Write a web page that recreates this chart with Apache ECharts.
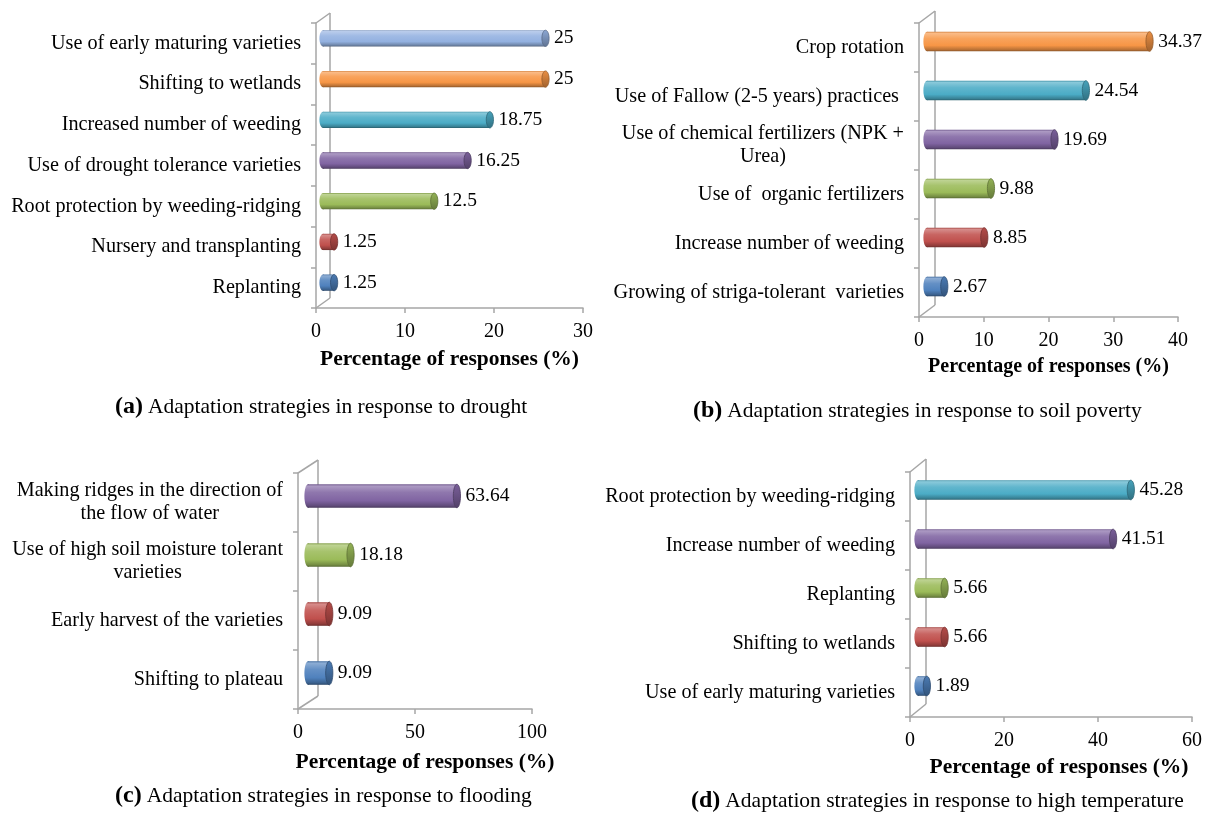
<!DOCTYPE html>
<html>
<head>
<meta charset="utf-8">
<script src="https://cdn.jsdelivr.net/npm/echarts@6/dist/echarts.min.js"></script>
<style>
  html, body { margin: 0; padding: 0; background: #ffffff; }
  #chart { width: 1211px; height: 815px; }
</style>
</head>
<body>
<div id="chart"></div>
<script>
// Categories are listed bottom-to-top (first entry sits at the bottom of the axis).
const droughtCategories = [
  'Replanting',
  'Nursery and transplanting',
  'Root protection by weeding-ridging',
  'Use of drought tolerance varieties',
  'Increased number of weeding',
  'Shifting to wetlands',
  'Use of early maturing varieties'
];
const droughtValues = [1.25, 1.25, 12.5, 16.25, 18.75, 25, 25];

const soilCategories = [
  'Growing of striga-tolerant  varieties',
  'Increase number of weeding',
  'Use of  organic fertilizers',
  'Use of chemical fertilizers (NPK +\nUrea)',
  'Use of Fallow (2-5 years) practices ',
  'Crop rotation'
];
const soilValues = [2.67, 8.85, 9.88, 19.69, 24.54, 34.37];

const floodCategories = [
  'Shifting to plateau',
  'Early harvest of the varieties',
  'Use of high soil moisture tolerant\nvarieties',
  'Making ridges in the direction of\nthe flow of water'
];
const floodValues = [9.09, 9.09, 18.18, 63.64];

const heatCategories = [
  'Use of early maturing varieties',
  'Shifting to wetlands',
  'Replanting',
  'Increase number of weeding',
  'Root protection by weeding-ridging'
];
const heatValues = [1.89, 5.66, 5.66, 41.51, 45.28];

const axisTitle = 'Percentage of responses (%)';
const captionTags = ['(a)', '(b)', '(c)', '(d)'];
const captionTexts = [
  'Adaptation strategies in response to drought',
  'Adaptation strategies in response to soil poverty',
  'Adaptation strategies in response to flooding',
  'Adaptation strategies in response to high temperature'
];

// Office-style accent colours, applied per point from the bottom up
const palette = ['#4F81BD', '#C0504D', '#9BBB59', '#8064A2', '#4BACC6', '#F79646', '#93B1E0'];

const FONT = "'Liberation Serif', 'Times New Roman', serif";
const AXIS_GREY = '#a6a6a6';

function hexToRgb(h) {
  const n = parseInt(h.slice(1), 16);
  return [(n >> 16) & 255, (n >> 8) & 255, n & 255];
}
function mix(hex, target, t) {
  const a = hexToRgb(hex), b = hexToRgb(target);
  const c = a.map((v, i) => Math.round(v + (b[i] - v) * t));
  return 'rgb(' + c.join(',') + ')';
}
function bodyGradient(base) {
  return {
    type: 'linear', x: 0, y: 0, x2: 0, y2: 1,
    colorStops: [
      { offset: 0, color: mix(base, '#000000', 0.15) },
      { offset: 0.08, color: mix(base, '#ffffff', 0.35) },
      { offset: 0.35, color: mix(base, '#ffffff', 0.12) },
      { offset: 0.7, color: base },
      { offset: 0.92, color: mix(base, '#000000', 0.25) },
      { offset: 1, color: mix(base, '#000000', 0.45) }
    ]
  };
}
function capGradient(base) {
  return {
    type: 'linear', x: 0, y: 0, x2: 0, y2: 1,
    colorStops: [
      { offset: 0, color: mix(base, '#000000', 0.05) },
      { offset: 1, color: mix(base, '#000000', 0.35) }
    ]
  };
}

// Cylinder bars drawn at mid-depth of a shallow 3D plot box
function cylinderRenderer(depthX, depthY, labelSize) {
  return function (params, api) {
    const v = api.value(0);
    const c = api.value(1);
    const start = api.coord([0, c]);
    const end = api.coord([v, c]);
    const band = api.size([0, 1])[1];
    const h = band * 0.4;
    const rx = 3.6;
    const cy = start[1] - depthY / 2;
    const x0 = start[0] + depthX / 2;
    const x1 = end[0] + depthX / 2;
    const base = palette[c];
    const fill = bodyGradient(base);
    return {
      type: 'group',
      children: [
        { type: 'ellipse', shape: { cx: x0, cy: cy, rx: rx, ry: h / 2 }, style: { fill: fill } },
        { type: 'rect', shape: { x: x0, y: cy - h / 2, width: Math.max(0, x1 - x0), height: h }, style: { fill: fill } },
        { type: 'ellipse', shape: { cx: x1, cy: cy, rx: rx, ry: h / 2 },
          style: { fill: capGradient(base), stroke: mix(base, '#000000', 0.4), lineWidth: 0.8 } },
        { type: 'text', style: {
            text: String(v), x: x1 + rx + 5, y: cy,
            align: 'left', verticalAlign: 'middle',
            fontFamily: FONT, fontSize: labelSize, fill: '#000000'
        } }
      ]
    };
  };
}

// Back wall edge and the two floor/ceiling diagonals of the 3D box
function frameRenderer(depthX, depthY) {
  return function (params) {
    const cs = params.coordSys;
    const L = cs.x, T = cs.y, B = cs.y + cs.height;
    const st = { stroke: AXIS_GREY, lineWidth: 1.5 };
    return {
      type: 'group',
      children: [
        { type: 'line', shape: { x1: L + depthX, y1: T - depthY, x2: L + depthX, y2: B - depthY }, style: st },
        { type: 'line', shape: { x1: L, y1: T, x2: L + depthX, y2: T - depthY }, style: st },
        { type: 'line', shape: { x1: L, y1: B, x2: L + depthX, y2: B - depthY }, style: st }
      ]
    };
  };
}

const panels = [
  { cats: droughtCategories, vals: droughtValues, grid: { left: 316, right: 628, top: 23, bottom: 507 },
    max: 30, interval: 10, dx: 14, dy: 10, titleSize: 21.5, nameGap: 40, namePad: 0,
    caption: { left: 115, top: 394 } },
  { cats: soilCategories, vals: soilValues, grid: { left: 919, right: 33, top: 23, bottom: 498 },
    max: 40, interval: 10, dx: 16, dy: 12, titleSize: 20, nameGap: 40, namePad: 0,
    caption: { left: 693, top: 398 } },
  { cats: floodCategories, vals: floodValues, grid: { left: 298, right: 679, top: 473, bottom: 106 },
    max: 100, interval: 50, dx: 20, dy: 13, titleSize: 21.5, nameGap: 42, namePad: 20,
    caption: { left: 115, top: 783 } },
  { cats: heatCategories, vals: heatValues, grid: { left: 910, right: 19, top: 472, bottom: 98 },
    max: 60, interval: 20, dx: 16, dy: 13, titleSize: 21.5, nameGap: 39, namePad: 16,
    caption: { left: 691, top: 788 } }
];

const catLabelStyle = { fontFamily: FONT, fontSize: 20, color: '#000000', lineHeight: 23 };

const option = {
  animation: false,
  backgroundColor: '#ffffff',
  title: panels.map((p, i) => ({
    left: p.caption.left, top: p.caption.top, padding: 0,
    text: '{b|' + captionTags[i] + '} {n|' + captionTexts[i] + '}',
    textStyle: {
      fontWeight: 'normal',
      rich: {
        b: { fontFamily: FONT, fontWeight: 'bold', fontSize: 24, color: '#000000', lineHeight: 26 },
        n: { fontFamily: FONT, fontWeight: 'normal', fontSize: 21.5, color: '#000000', lineHeight: 26 }
      }
    }
  })),
  grid: panels.map(p => Object.assign({ containLabel: false }, p.grid)),
  xAxis: panels.map((p, i) => ({
    type: 'value', gridIndex: i, min: 0, max: p.max, interval: p.interval,
    axisLine: { show: true, lineStyle: { color: AXIS_GREY, width: 1.5 } },
    axisTick: { show: true, length: 5, lineStyle: { color: AXIS_GREY, width: 1.5 } },
    splitLine: { show: false },
    axisLabel: { fontFamily: FONT, fontSize: 20, color: '#000000', margin: 14 },
    name: axisTitle, nameLocation: 'middle', nameGap: p.nameGap,
    nameTextStyle: { fontFamily: FONT, fontWeight: 'bold', fontSize: p.titleSize, color: '#000000',
      padding: [0, 0, 0, p.namePad] }
  })),
  yAxis: panels.map((p, i) => ({
    type: 'category', gridIndex: i, data: p.cats,
    axisLine: { show: true, lineStyle: { color: AXIS_GREY, width: 1.5 } },
    axisTick: { show: true, length: 5, lineStyle: { color: AXIS_GREY, width: 1.5 } },
    splitLine: { show: false },
    axisLabel: {
      fontFamily: FONT, fontSize: 20.2, color: '#000000', margin: 15, lineHeight: 23,
      formatter: function (val) {
        if (val.indexOf('\n') < 0) return val;
        return val.split('\n').map(l => '{c|' + l + '}').join('\n');
      },
      rich: { c: Object.assign({ align: 'center' }, catLabelStyle, { fontSize: 20.2 }) }
    }
  })),
  series: panels.flatMap((p, i) => [
    {
      type: 'custom', xAxisIndex: i, yAxisIndex: i, clip: false, z: 1,
      renderItem: frameRenderer(p.dx, p.dy),
      data: [[0, 0]], encode: { x: 0, y: 1 }, silent: true
    },
    {
      type: 'custom', xAxisIndex: i, yAxisIndex: i, clip: false, z: 2,
      renderItem: cylinderRenderer(p.dx, p.dy, 19.5),
      data: p.vals.map((v, k) => [v, k]), encode: { x: 0, y: 1 }
    }
  ])
};

const chart = echarts.init(document.getElementById('chart'), null, { renderer: 'canvas' });
chart.setOption(option);
</script>
</body>
</html>
